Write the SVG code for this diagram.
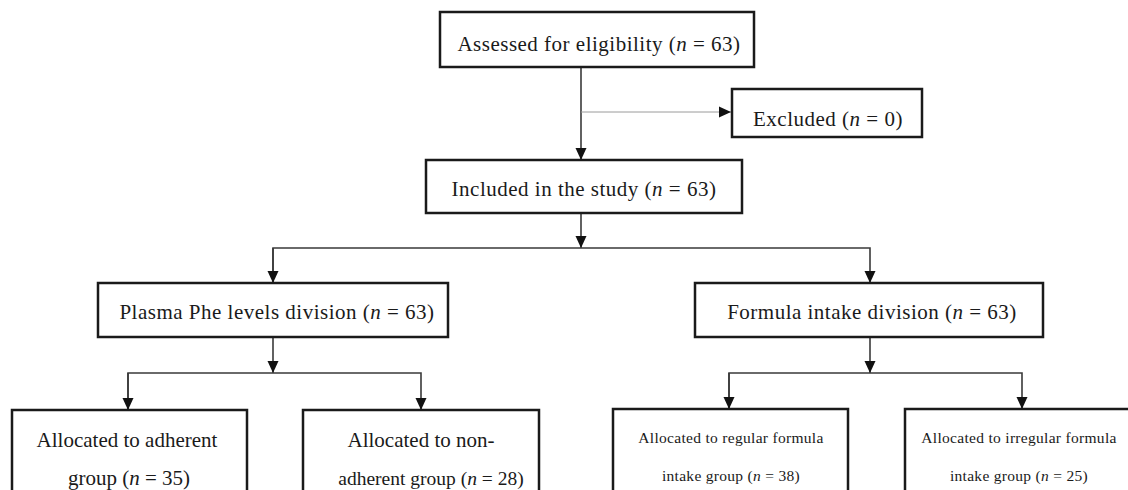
<svg xmlns="http://www.w3.org/2000/svg" width="1128" height="490" viewBox="0 0 1128 490">
<style>
.box{fill:#fff;stroke:#1a1a1a;stroke-width:2.5}
.t{font-family:"Liberation Serif","Times New Roman",serif;font-size:21px;letter-spacing:0.5px;fill:#1a1a1a;text-anchor:middle}
.b{letter-spacing:0}
.s{font-size:15.5px;letter-spacing:0.3px}
.i{font-style:italic}
.c{fill:none;stroke:#3a3a3a;stroke-width:1.6}
.cl{fill:none;stroke:#9a9a9a;stroke-width:1}
</style>
<defs>
<marker id="ah" markerUnits="userSpaceOnUse" markerWidth="12" markerHeight="12" viewBox="0 0 12 12" refX="12" refY="6" orient="auto">
<path d="M0,0.5 L12,6 L0,11.5 Z" fill="#111"/>
</marker>
</defs>
<g id="connectors">
<path class="c" d="M581,67 V160" marker-end="url(#ah)"/>
<path class="cl" d="M581,112 H731" marker-end="url(#ah)"/>
<path class="c" d="M581,213 V248" marker-end="url(#ah)"/>
<path class="c" d="M273,283 V248 H870 V283" marker-end="url(#ah)"/>
<path class="c" d="M273,248 V283" marker-end="url(#ah)"/>
<path class="c" d="M273,337 V373" marker-end="url(#ah)"/>
<path class="c" d="M128,410 V373 H421 V410" marker-end="url(#ah)"/>
<path class="c" d="M128,373 V410" marker-end="url(#ah)"/>
<path class="c" d="M870,337 V373" marker-end="url(#ah)"/>
<path class="c" d="M729,409 V373 H1022 V409" marker-end="url(#ah)"/>
<path class="c" d="M729,373 V409" marker-end="url(#ah)"/>
</g>
<g id="assessed">
<rect class="box" x="440" y="12" width="314" height="55"/>
<text class="t" x="599" y="51">Assessed for eligibility (<tspan class="i">n</tspan> = 63)</text>
</g>
<g id="excluded">
<rect class="box" x="732" y="89" width="190" height="48"/>
<text class="t" x="828" y="126">Excluded (<tspan class="i">n</tspan> = 0)</text>
</g>
<g id="included">
<rect class="box" x="426" y="160" width="316" height="53"/>
<text class="t" x="584" y="196">Included in the study (<tspan class="i">n</tspan> = 63)</text>
</g>
<g id="plasma">
<rect class="box" x="98" y="283" width="350" height="54"/>
<text class="t" x="277" y="319">Plasma Phe levels division (<tspan class="i">n</tspan> = 63)</text>
</g>
<g id="formula">
<rect class="box" x="695" y="283" width="348" height="54"/>
<text class="t" x="872" y="319">Formula intake division (<tspan class="i">n</tspan> = 63)</text>
</g>
<g id="adherent">
<rect class="box" x="12" y="410" width="235" height="100"/>
<text class="t b" x="127" y="447">Allocated to adherent</text>
<text class="t b" x="129" y="485">group (<tspan class="i">n</tspan> = 35)</text>
</g>
<g id="nonadherent">
<rect class="box" x="303" y="410" width="236" height="100"/>
<text class="t b" x="421" y="447">Allocated to non-</text>
<text class="t b" x="431" y="485" style="font-size:19.5px">adherent group (<tspan class="i">n</tspan> = 28)</text>
</g>
<g id="regular">
<rect class="box" x="613" y="409" width="235" height="100"/>
<text class="t s" x="731" y="443">Allocated to regular formula</text>
<text class="t s" x="731" y="481">intake group (<tspan class="i">n</tspan> = 38)</text>
</g>
<g id="irregular">
<rect class="box" x="905" y="409" width="235" height="100"/>
<text class="t s" x="1019" y="443">Allocated to irregular formula</text>
<text class="t s" x="1019" y="481">intake group (<tspan class="i">n</tspan> = 25)</text>
</g>
</svg>
